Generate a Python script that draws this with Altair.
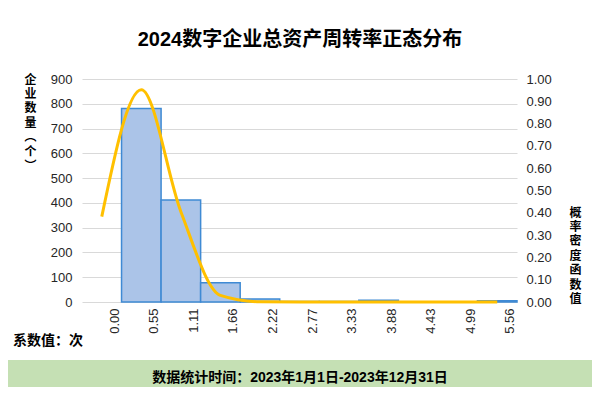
import altair as alt
import pandas as pd

# ---- data ----
bin_labels = ["0.00", "0.55", "1.11", "1.66", "2.22", "2.77", "3.33", "3.88", "4.43", "4.99", "5.56"]
counts = [0, 781, 412, 78, 12, 2, 2, 7, 1, 1, 5]
density = [0.383, 0.952, 0.405, 0.030, 0.001, 0.0, 0.0, 0.0, 0.0, 0.0, 0.0]

count_ticks = [0, 100, 200, 300, 400, 500, 600, 700, 800, 900]
density_ticks = [0.0, 0.1, 0.2, 0.3, 0.4, 0.5, 0.6, 0.7, 0.8, 0.9, 1.0]

title_text = "2024数字企业总资产周转率正态分布"
left_title = ["企", "业", "数", "量", "︵", "个", "︶"]
right_title = ["概", "率", "密", "度", "函", "数", "值"]
unit_note = "系数值：次"
footer_text = "数据统计时间：2023年1月1日-2023年12月31日"

df = pd.DataFrame({"bin": bin_labels, "count": counts, "density": density})

NUM_FONT = "Liberation Sans"
CJK_FONT = "Noto Sans CJK SC"
MIX_FONT = "Liberation Sans, Noto Sans CJK SC"
LABEL_COLOR = "#262626"

x_enc = alt.X(
    "bin:N",
    sort=bin_labels,
    scale=alt.Scale(domain=bin_labels, paddingInner=0, paddingOuter=0),
    axis=alt.Axis(
        title=None, labelAngle=-90, labelOffset=13, ticks=False, domain=False,
        labelPadding=6, labelFont=NUM_FONT, labelFontSize=13, labelColor=LABEL_COLOR,
        grid=False,
    ),
)

bars = alt.Chart(df).transform_filter("datum.count > 0").mark_bar(
    fill="#abc4e8", stroke="#3f8ad4", strokeWidth=1.5
).encode(
    x=x_enc,
    y=alt.Y(
        "count:Q",
        scale=alt.Scale(domain=[0, 900], nice=False),
        axis=alt.Axis(
            orient="left", values=count_ticks, ticks=False, domain=False,
            labelFont=NUM_FONT, labelFontSize=13, labelColor=LABEL_COLOR, labelPadding=10,
            gridColor="#d9d9d9", gridWidth=1,
            title=left_title, titleAngle=0, titleX=-52, titleY=-5,
            titleAlign="center", titleBaseline="top", titleFont=CJK_FONT,
            titleFontSize=12, titleFontWeight="bold", titleLineHeight=14.4, titleColor="black",
        ),
    ),
)

line = alt.Chart(df).mark_line(
    color="#ffc000", strokeWidth=3, interpolate="monotone"
).encode(
    x=x_enc,
    y=alt.Y(
        "density:Q",
        scale=alt.Scale(domain=[0, 1], nice=False),
        axis=alt.Axis(
            orient="right", values=density_ticks, format=".2f", ticks=False, domain=False,
            grid=False, labelFont=NUM_FONT, labelFontSize=13, labelColor=LABEL_COLOR,
            labelPadding=9,
            title=right_title, titleAngle=0, titleX=58, titleY=128,
            titleAlign="center", titleBaseline="top", titleFont=CJK_FONT,
            titleFontSize=12, titleFontWeight="bold", titleLineHeight=14.4, titleColor="black",
        ),
    ),
)

one = pd.DataFrame({"title": [title_text], "note": [unit_note], "footer": [footer_text]})

band = alt.Chart(one).mark_rect(color="#c5e0b4").encode(
    x=alt.value(-74), x2=alt.value(510), y=alt.value(281), y2=alt.value(315)
)

title = alt.Chart(one).mark_text(
    font=MIX_FONT, fontSize=20, fontWeight="bold", color="black", align="center", baseline="middle"
).encode(x=alt.value(218), y=alt.value(-39), text="title:N")

note = alt.Chart(one).mark_text(
    font=CJK_FONT, fontSize=14, fontWeight="bold", color="black", align="left", baseline="middle"
).encode(x=alt.value(-69), y=alt.value(262), text="note:N")

footer = alt.Chart(one).mark_text(
    font=MIX_FONT, fontSize=14, fontWeight="bold", color="black", align="center", baseline="middle"
).encode(x=alt.value(218), y=alt.value(299), text="footer:N")

base = alt.layer(bars, line).resolve_scale(y="independent")

chart = alt.layer(band, base, title, note, footer).properties(
    width=435, height=223,
    autosize=alt.AutoSizeParams(type="none"),
    padding={"left": 74, "top": 71, "right": 75, "bottom": 85},
).configure_view(stroke=None)

chart.save("out.html", embed_options={"renderer": "svg", "actions": False})
